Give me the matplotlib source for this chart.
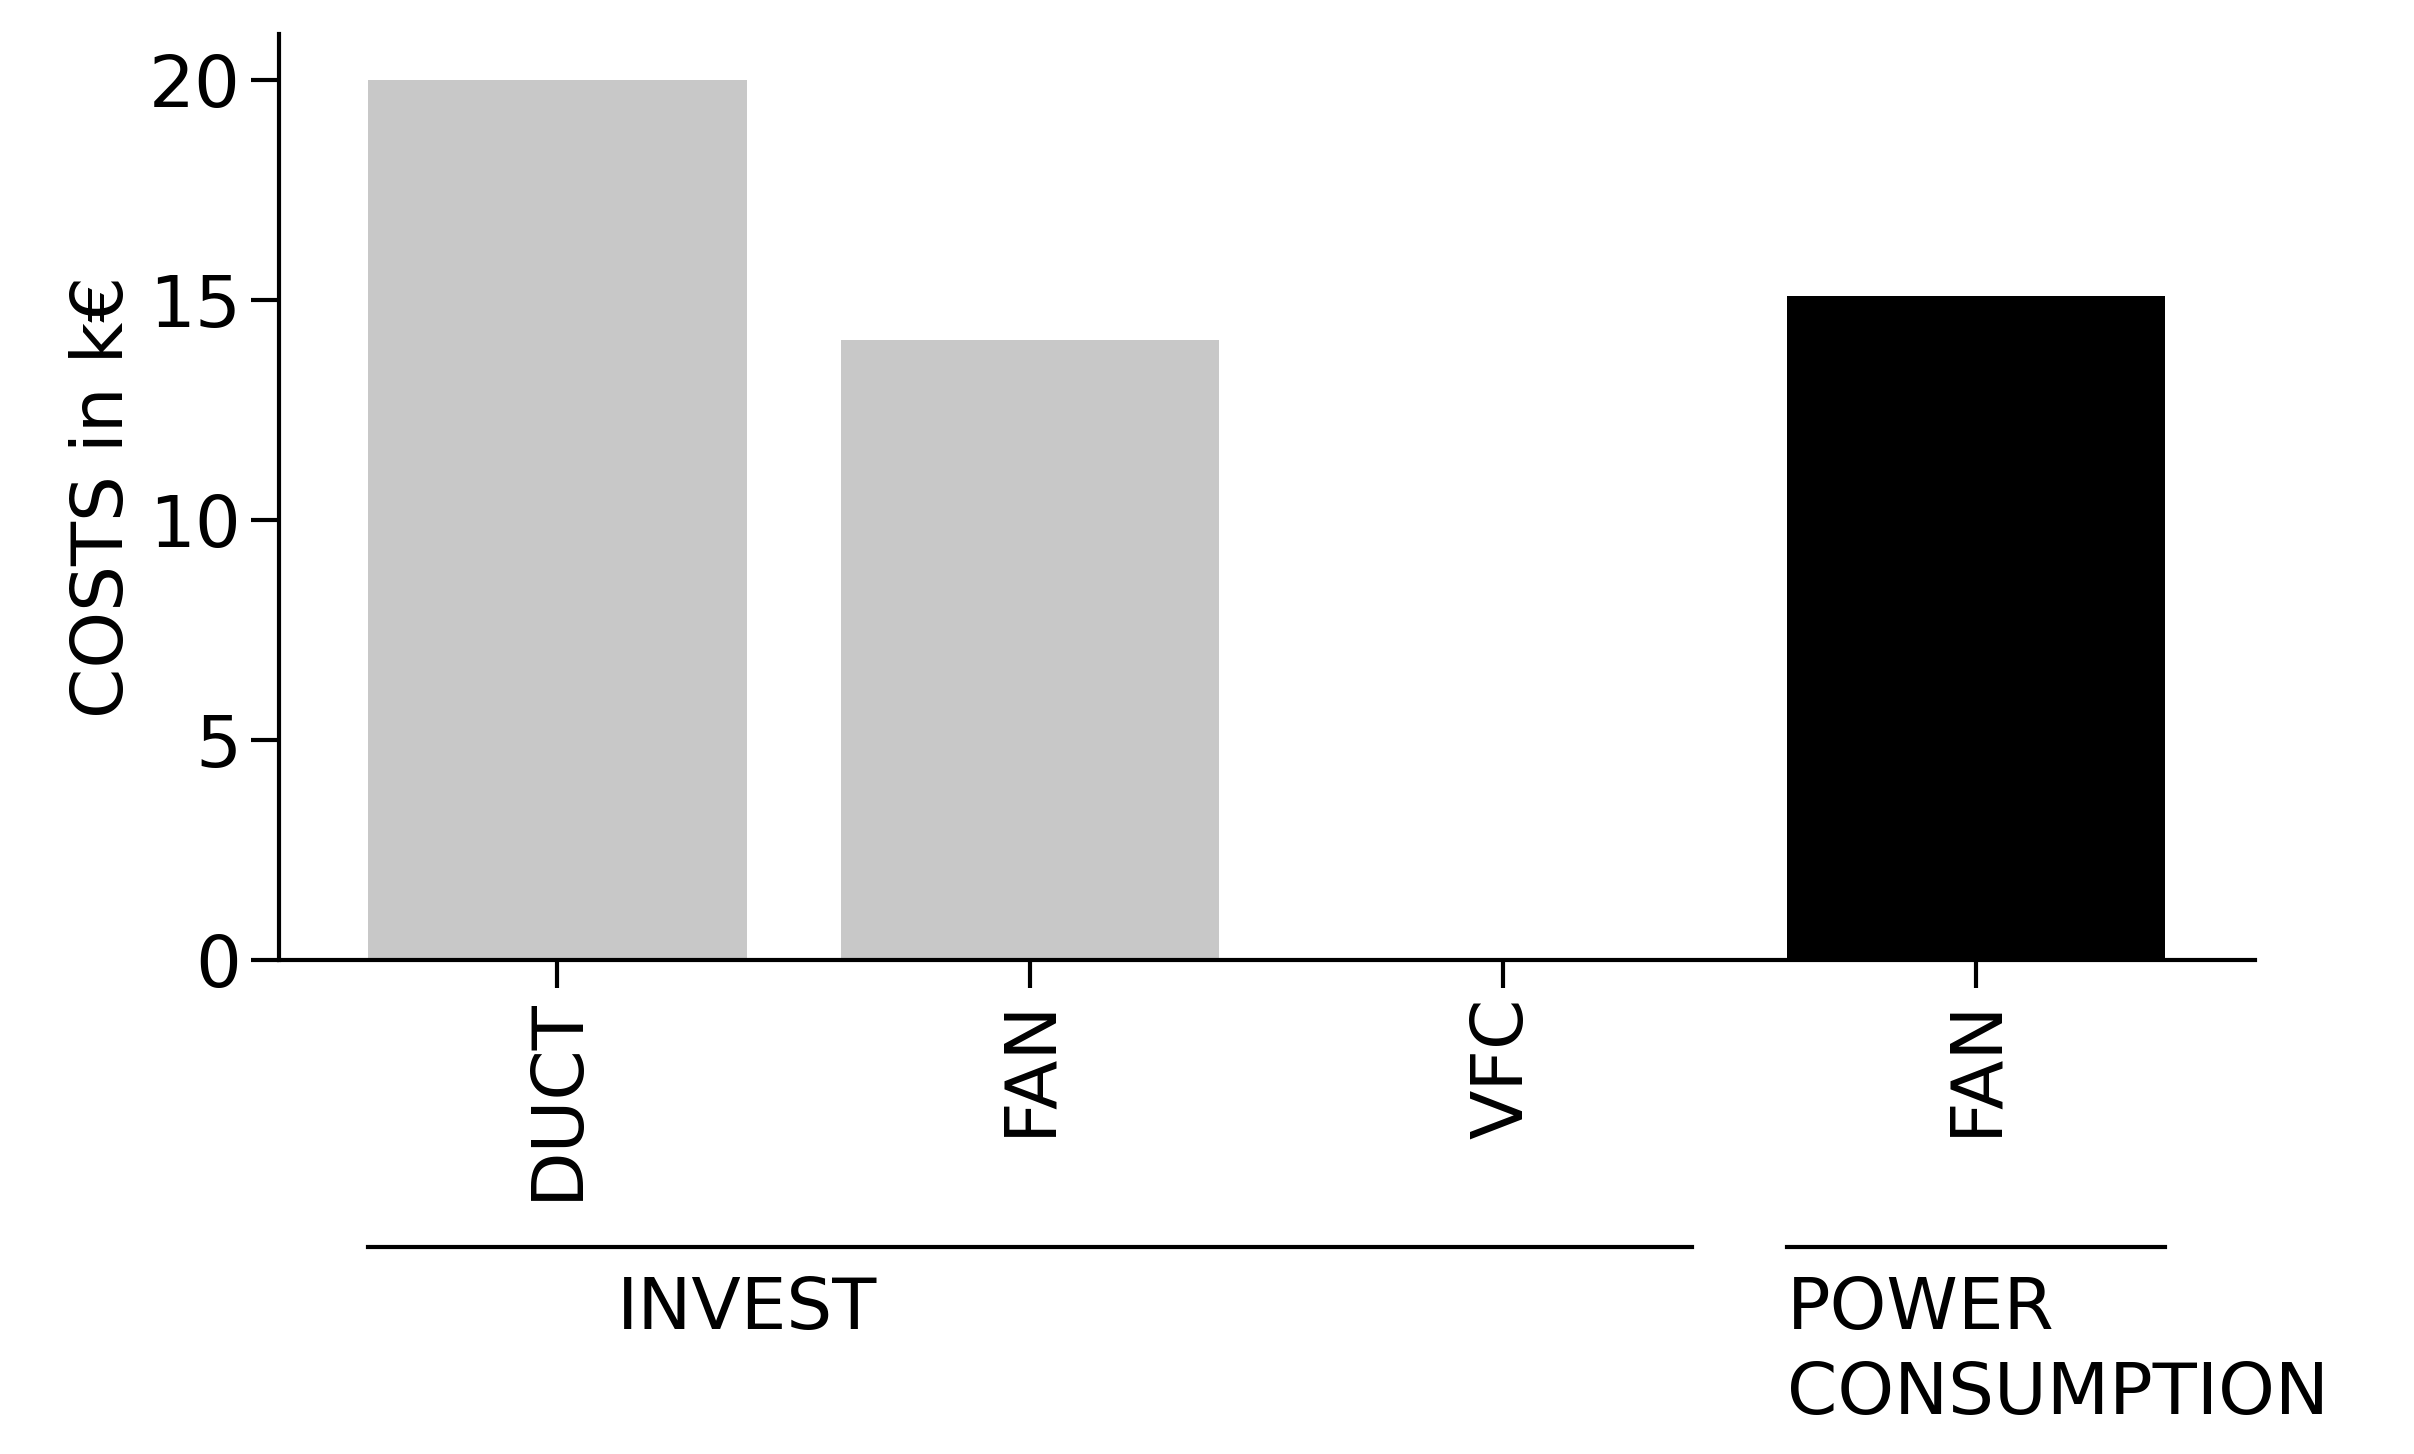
import matplotlib.pyplot as plt
from matplotlib.lines import Line2D

labels = ["DUCT", "FAN", "VFC", "FAN"]
costs = [20.0, 14.1, 0.0, 15.1]
colors = ["#c8c8c8", "#c8c8c8", "#c8c8c8", "black"]
groups = [("INVEST", 0, 2), ("POWER\nCONSUMPTION", 3, 3)]

plt.rcParams['font.family'] = ['DejaVu Sans']
fig = plt.figure(figsize=(12.07, 7.27), dpi=200)
ax = fig.add_axes([0.1154, 0.3397, 0.934 - 0.1154, 0.9767 - 0.3397])
x = range(len(labels))
ax.bar(x, costs, width=0.8, color=colors)
ax.set_xlim(-0.59, 3.59)
ax.set_ylim(0, 21.05)
ax.set_xticks(list(x))
ax.set_xticklabels(labels, rotation=90, fontsize=26)
ax.set_yticks([0, 5, 10, 15, 20])
ax.tick_params(axis='y', labelsize=26, length=10, width=1.5)
ax.tick_params(axis='x', length=10, width=1.5)
ax.set_ylabel("COSTS in k€", fontsize=26)
for s in ["top", "right"]:
    ax.spines[s].set_visible(False)
for s in ["left", "bottom"]:
    ax.spines[s].set_linewidth(1.5)

# group brackets under the tick labels
tr = ax.get_xaxis_transform()
for name, i0, i1 in groups:
    x0, x1 = i0 - 0.4, i1 + 0.4
    ax.add_line(Line2D([x0, x1], [-0.31, -0.31], transform=tr, color="black",
                       lw=1.5, clip_on=False))
    if i0 == i1:
        ax.text(x0, -0.34, name, transform=tr, ha="left", va="top",
                fontsize=26, linespacing=1.3)
    else:
        ax.text((x0 + x1) / 2 - 0.6, -0.34, name, transform=tr, ha="center",
                va="top", fontsize=26)

fig.savefig("out.png")
